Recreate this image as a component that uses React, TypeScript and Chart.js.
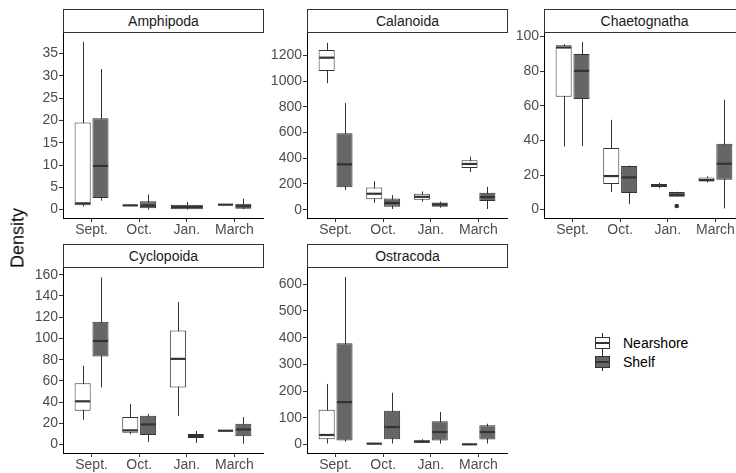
import React, { useEffect, useRef } from "react";
import { Chart, registerables } from "chart.js";

Chart.register(...registerables);

// ---------- data ----------
const months = ["Sept.", "Oct.", "Jan.", "March"];
const groupNames = ["Nearshore", "Shelf"];
const taxa = ["Amphipoda", "Calanoida", "Chaetognatha", "Cyclopoida", "Ostracoda"];

// each entry: [lower whisker, Q1, median, Q3, upper whisker] per month (null = no data)
const amphipodaNearshore = [[0.7, 1.0, 1.4, 19.5, 37.6], [0.8, 0.85, 0.95, 1.05, 1.1], null, [1.0, 1.05, 1.1, 1.15, 1.2]];
const amphipodaShelf = [[2.0, 2.6, 9.8, 20.5, 31.5], [0.0, 0.3, 0.9, 1.86, 3.4], [0.0, 0.07, 0.6, 1.1, 1.7], [0.1, 0.2, 0.74, 1.34, 2.46]];

const calanoidaNearshore = [[985, 1081, 1184, 1243, 1300], [54, 82, 124, 173, 222], [62, 77, 100, 124, 142], [294, 325, 356, 384, 413]];
const calanoidaShelf = [[152, 175, 353, 596, 830], [5, 23, 52, 87, 113], [15, 23, 40, 56, 62], [5, 67, 98, 132, 178]];

const chaetognathaNearshore = [[36.5, 65.2, 93.7, 95.0, 95.6], [10.2, 14.8, 19.4, 35.6, 51.9], [12.4, 13.0, 13.9, 14.8, 15.5], [15.7, 16.3, 17.1, 18.6, 19.2]];
const chaetognathaShelf = [[36.7, 64.0, 80.2, 90.0, 96.9], [3.1, 9.6, 18.6, 25.2, 25.5], [7.5, 7.5, 8.5, 10.2, 10.3], [0.7, 17.3, 26.5, 38.1, 63.5]];
const chaetognathaShelfOutliers = [[], [], [2.1], []];

const cyclopoidaNearshore = [[23.4, 31.8, 40.8, 57.7, 74.2], [9.7, 11.2, 13.4, 25.9, 38.4], [27.1, 53.9, 80.8, 107.6, 134.4], [12.2, 12.4, 13.1, 13.6, 13.8]];
const cyclopoidaShelf = [[53.9, 82.9, 97.6, 115.7, 157.5], [2.5, 9.0, 19.0, 27.1, 29.0], [1.6, 6.2, 8.1, 10.0, 12.8], [0.9, 7.8, 14.3, 19.6, 25.9]];

const ostracodaNearshore = [[4, 20, 36, 130, 227], [1, 2, 3.5, 5, 6], [6, 7, 11, 16, 20], [0, 0.5, 1, 2, 3]];
const ostracodaShelf = [[11, 15, 159, 379, 627], [4, 20, 66, 127, 194], [4, 15, 47, 87, 122], [4, 19, 47, 72, 78]];

const noOutliers = [[], [], [], []];

const amphipodaTicks = [0, 5, 10, 15, 20, 25, 30, 35];
const calanoidaTicks = [0, 200, 400, 600, 800, 1000, 1200];
const chaetognathaTicks = [0, 20, 40, 60, 80, 100];
const cyclopoidaTicks = [0, 20, 40, 60, 80, 100, 120, 140, 160];
const ostracodaTicks = [0, 100, 200, 300, 400, 500, 600];

const amphipodaRange = [-1.88, 39.5];
const calanoidaRange = [-65, 1373];
const chaetognathaRange = [-4.85, 101.85];
const cyclopoidaRange = [-7.9, 166];
const ostracodaRange = [-31.4, 659];

// ---------- styling ----------
const FONT = "'Liberation Sans', Arial, Helvetica, sans-serif";
const FILLS = ["#FFFFFF", "#666666"];
const LINE = "#333333";

const panels = [
  { name: taxa[0], stats: [amphipodaNearshore, amphipodaShelf], outliers: [noOutliers, noOutliers], ticks: amphipodaTicks, range: amphipodaRange, col: 0, row: 0 },
  { name: taxa[1], stats: [calanoidaNearshore, calanoidaShelf], outliers: [noOutliers, noOutliers], ticks: calanoidaTicks, range: calanoidaRange, col: 1, row: 0 },
  { name: taxa[2], stats: [chaetognathaNearshore, chaetognathaShelf], outliers: [noOutliers, chaetognathaShelfOutliers], ticks: chaetognathaTicks, range: chaetognathaRange, col: 2, row: 0 },
  { name: taxa[3], stats: [cyclopoidaNearshore, cyclopoidaShelf], outliers: [noOutliers, noOutliers], ticks: cyclopoidaTicks, range: cyclopoidaRange, col: 0, row: 1 },
  { name: taxa[4], stats: [ostracodaNearshore, ostracodaShelf], outliers: [noOutliers, noOutliers], ticks: ostracodaTicks, range: ostracodaRange, col: 1, row: 1 },
];

const COL_LEFT = [63, 307, 544];
const ROW_PLOT_TOP = [32, 267];
const ROW_STRIP_TOP = [9, 244];
const PLOT_W = 200;
const PLOT_H = 186;
const Y_AXIS_W = 46;
const X_AXIS_H = 26;
const PAD_TOP = 8;
const PAD_RIGHT = 2;

const boxPlugin = {
  id: "boxDetails",
  beforeDatasetsDraw(chart: any) {
    const ctx = chart.ctx;
    const y = chart.scales.y;
    ctx.save();
    ctx.strokeStyle = LINE;
    ctx.lineWidth = 1;
    chart.data.datasets.forEach((ds: any, d: number) => {
      const meta = chart.getDatasetMeta(d);
      ds.stats.forEach((s: number[] | null, i: number) => {
        if (!s) return;
        const el = meta.data[i];
        const x = Math.round(el.x) + 0.5;
        ctx.beginPath();
        ctx.moveTo(x, y.getPixelForValue(s[0]));
        ctx.lineTo(x, y.getPixelForValue(s[4]));
        ctx.stroke();
      });
    });
    ctx.restore();
  },
  afterDatasetsDraw(chart: any) {
    const ctx = chart.ctx;
    const y = chart.scales.y;
    ctx.save();
    chart.data.datasets.forEach((ds: any, d: number) => {
      const meta = chart.getDatasetMeta(d);
      ds.stats.forEach((s: number[] | null, i: number) => {
        if (!s) return;
        const el = meta.data[i];
        const half = el.width / 2;
        const ym = y.getPixelForValue(s[2]);
        ctx.strokeStyle = LINE;
        ctx.lineWidth = 2.2;
        ctx.beginPath();
        ctx.moveTo(el.x - half + 0.5, ym);
        ctx.lineTo(el.x + half - 0.5, ym);
        ctx.stroke();
        (ds.outliers[i] || []).forEach((v: number) => {
          ctx.fillStyle = LINE;
          ctx.beginPath();
          ctx.arc(el.x, y.getPixelForValue(v), 2.3, 0, Math.PI * 2);
          ctx.fill();
        });
      });
    });
    ctx.restore();
  },
};

function Panel({ p }: { p: any }) {
  const ref = useRef<HTMLCanvasElement>(null);
  useEffect(() => {
    const canvas = ref.current;
    if (!canvas) return;
    const chart = new Chart(canvas, {
      type: "bar",
      data: {
        labels: months.map((_, i) => i + 1),
        datasets: groupNames.map((g, gi) => ({
          label: g,
          data: p.stats[gi].map((s: number[] | null) => (s ? [s[1], s[3]] : null)),
          stats: p.stats[gi],
          outliers: p.outliers[gi],
          backgroundColor: FILLS[gi],
          borderColor: LINE,
          borderWidth: 1,
          borderSkipped: false,
          skipNull: true,
          categoryPercentage: 0.75,
          barPercentage: 0.9,
        })) as any,
      },
      options: {
        animation: false,
        responsive: false,
        maintainAspectRatio: false,
        devicePixelRatio: 1,
        events: [],
        layout: { padding: { top: PAD_TOP, right: PAD_RIGHT, left: 0, bottom: 0 } },
        plugins: { legend: { display: false }, tooltip: { enabled: false }, title: { display: false } },
        scales: {
          x: {
            type: "linear",
            offset: false,
            bounds: "data",
            grace: 0,
            min: 0.4,
            max: 4.6,
            afterDataLimits: (scale: any) => {
              scale.min = 0.4;
              scale.max = 4.6;
            },
            afterBuildTicks: (scale: any) => {
              scale.ticks = months.map((_, i) => ({ value: i + 1 }));
              scale.min = 0.4;
              scale.max = 4.6;
            },
            afterFit: (scale: any) => {
              scale.height = X_AXIS_H;
            },
            grid: { display: true, offset: false, drawOnChartArea: false, drawTicks: true, tickLength: 4, color: LINE, lineWidth: 1 },
            border: { display: true, color: "#000000", width: 1 },
            ticks: {
              autoSkip: false,
              maxRotation: 0,
              padding: 0,
              color: "#4D4D4D",
              font: { family: FONT, size: 14 },
              callback: (v: any) => months[Math.round(Number(v)) - 1] ?? "",
            },
          },
          y: {
            type: "linear",
            min: p.range[0],
            max: p.range[1],
            afterBuildTicks: (scale: any) => {
              scale.ticks = p.ticks.map((v: number) => ({ value: v }));
            },
            afterFit: (scale: any) => {
              scale.width = Y_AXIS_W;
            },
            grid: { display: true, drawOnChartArea: false, drawTicks: true, tickLength: 4, color: LINE, lineWidth: 1 },
            border: { display: true, color: "#000000", width: 1 },
            ticks: {
              autoSkip: false,
              padding: 1,
              color: "#4D4D4D",
              font: { family: FONT, size: 14 },
              callback: (v: any) => String(v),
            },
          },
        },
      } as any,
      plugins: [boxPlugin],
    });
    return () => chart.destroy();
  }, [p]);

  const left = COL_LEFT[p.col];
  const plotTop = ROW_PLOT_TOP[p.row];
  const w = Y_AXIS_W + PLOT_W + PAD_RIGHT;
  const h = PAD_TOP + PLOT_H + X_AXIS_H;
  return (
    <>
      <canvas
        ref={ref}
        width={w}
        height={h}
        style={{ position: "absolute", left: left - Y_AXIS_W, top: plotTop - PAD_TOP, width: w, height: h }}
      />
      <div
        style={{
          position: "absolute",
          left: left,
          top: ROW_STRIP_TOP[p.row],
          width: PLOT_W + 1,
          height: plotTop - ROW_STRIP_TOP[p.row] + 1,
          boxSizing: "border-box",
          border: "1px solid #333333",
          background: "#FFFFFF",
          display: "flex",
          alignItems: "center",
          justifyContent: "center",
          fontFamily: FONT,
          fontSize: 14,
          color: "#1A1A1A",
        }}
      >
        {p.name}
      </div>
    </>
  );
}

function LegendKey({ top, fill, label }: { top: number; fill: string; label: string }) {
  return (
    <>
      <div style={{ position: "absolute", left: 602, top: top - 10, width: 1, height: 19, background: LINE }} />
      <div
        style={{
          position: "absolute",
          left: 595,
          top: top - 6,
          width: 15,
          height: 12,
          boxSizing: "border-box",
          border: "1px solid " + LINE,
          background: fill,
        }}
      />
      <div style={{ position: "absolute", left: 596, top: top - 1, width: 13, height: 2, background: LINE }} />
      <div
        style={{
          position: "absolute",
          left: 623,
          top: top - 10,
          height: 20,
          lineHeight: "20px",
          fontFamily: FONT,
          fontSize: 14,
          color: "#000000",
          whiteSpace: "nowrap",
        }}
      >
        {label}
      </div>
    </>
  );
}

export default function App() {
  return (
    <div
      style={{
        position: "fixed",
        left: 0,
        top: 0,
        width: 736,
        height: 473,
        overflow: "hidden",
        background: "#FFFFFF",
      }}
    >
      {panels.map((p) => (
        <Panel key={p.name} p={p} />
      ))}
      <div
        style={{
          position: "absolute",
          left: 18,
          top: 238,
          transform: "translate(-50%, -50%) rotate(-90deg)",
          fontFamily: FONT,
          fontSize: 18,
          color: "#000000",
          whiteSpace: "nowrap",
        }}
      >
        Density
      </div>
      <LegendKey top={343} fill={FILLS[0]} label={groupNames[0]} />
      <LegendKey top={362} fill={FILLS[1]} label={groupNames[1]} />
    </div>
  );
}
